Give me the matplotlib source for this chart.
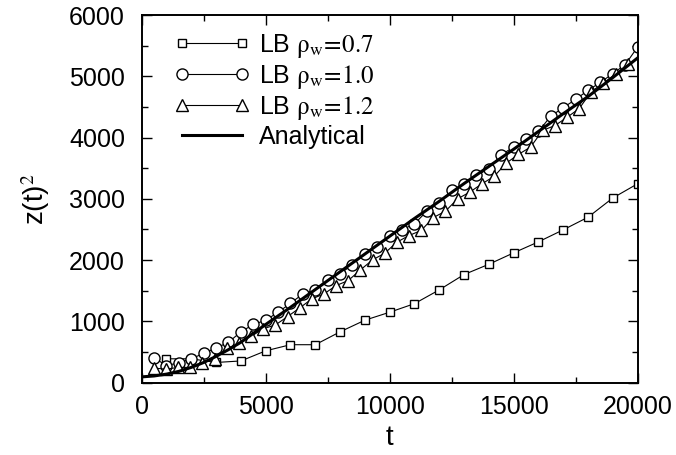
import matplotlib
matplotlib.use("Agg")
import matplotlib.pyplot as plt
from matplotlib.ticker import MultipleLocator

plt.rcParams["font.family"] = ["Liberation Sans", "DejaVu Sans"]
plt.rcParams["mathtext.fontset"] = "stix"

# LB rho_w = 0.7 (squares)
t_sq = [1000, 2000, 3000, 4000, 5000, 6000, 7000, 8000, 9000, 10000,
        11000, 12000, 13000, 14000, 15000, 16000, 17000, 18000, 19000, 20000]
z_sq = [390, 390, 330, 355, 520, 620, 620, 830, 1020, 1150,
        1290, 1515, 1765, 1933, 2119, 2299, 2495, 2701, 3015, 3247]

# LB rho_w = 1.0 (circles)
t_ci = [500, 1000, 1500, 2000, 2500, 3000, 3500, 4000, 4500, 5000,
        5500, 6000, 6500, 7000, 7500, 8000, 8500, 9000, 9500, 10000,
        10500, 11000, 11500, 12000, 12500, 13000, 13500, 14000, 14500, 15000,
        15500, 16000, 16500, 17000, 17500, 18000, 18500, 19000, 19500, 20000]
z_ci = [405, 280, 325, 390, 479, 566, 659, 830, 950, 1020,
        1149, 1296, 1449, 1515, 1678, 1776, 1928, 2103, 2212, 2402,
        2495, 2593, 2799, 2930, 3137, 3246, 3382, 3491, 3720, 3845,
        3971, 4101, 4351, 4488, 4624, 4771, 4902, 5044, 5191, 5479]

# LB rho_w = 1.2 (triangles)
t_tr = [490, 980, 1470, 1960, 2450, 2940, 3430, 3920, 4410, 4900,
        5390, 5880, 6370, 6860, 7350, 7840, 8330, 8820, 9310, 9800,
        10290, 10780, 11270, 11760, 12250, 12740, 13230, 13720, 14210, 14700,
        15190, 15680, 16170, 16660, 17150, 17640, 18130, 18620, 19110, 19600]
z_tr = [240, 220, 250, 250, 320, 390, 560, 640, 755, 880,
        942, 1078, 1220, 1367, 1449, 1585, 1667, 1841, 2004, 2113,
        2293, 2402, 2484, 2695, 2799, 3001, 3110, 3246, 3366, 3583,
        3725, 3845, 4118, 4195, 4330, 4472, 4750, 4891, 5040, 5200]

# Analytical curve
t_an = [0, 500, 1000, 1500, 2000, 2500, 3000, 3500, 4000, 5000, 6000, 7000,
        8000, 9000, 10000, 11000, 12000, 13000, 14000, 15000, 16000,
        17000, 18000, 19000, 20000]
z_an = [95, 110, 140, 185, 250, 330, 430, 540, 660, 950, 1230, 1520,
        1810, 2100, 2390, 2680, 2960, 3250, 3530, 3810, 4100,
        4390, 4670, 4980, 5300]

fig = plt.figure(figsize=(6.76, 4.55), dpi=100)
ax = fig.add_axes([0.2096, 0.1589, 0.7337, 0.8081])

mk = dict(color="black", lw=0.8, mfc="white", mec="black", mew=1.0)
ax.plot(t_sq, z_sq, marker="s", ms=6, label=r"LB $\mathrm{\rho_w\!=\!0.7}$", **mk)
ax.plot(t_ci, z_ci, marker="o", ms=8, label=r"LB $\mathrm{\rho_w\!=\!1.0}$", **mk)
ax.plot(t_tr, z_tr, marker="^", ms=8, label=r"LB $\mathrm{\rho_w\!=\!1.2}$", **mk)
ax.plot(t_an, z_an, color="black", lw=2.2, label="Analytical", zorder=5)

ax.set_xlim(0, 20000)
ax.set_ylim(0, 6000)
ax.xaxis.set_major_locator(MultipleLocator(5000))
ax.xaxis.set_minor_locator(MultipleLocator(2500))
ax.yaxis.set_major_locator(MultipleLocator(1000))
ax.yaxis.set_minor_locator(MultipleLocator(500))
ax.tick_params(which="both", direction="in", top=True, right=True, labelsize=18, width=1.0)
ax.tick_params(which="major", length=7)
ax.tick_params(which="minor", length=4)
ax.tick_params(axis="x", which="major", pad=9)
ax.tick_params(axis="y", which="major", pad=12)
for s in ax.spines.values():
    s.set_linewidth(1.4)

ax.set_xlabel("t", fontsize=20, labelpad=4)
ax.set_ylabel(r"z(t)$^2$", fontsize=20, labelpad=12)

leg = ax.legend(loc="upper left", frameon=False, numpoints=2, handlelength=3.0,
                fontsize=18, labelspacing=0.12, handletextpad=0.4,
                bbox_to_anchor=(0.02, 1.015))

fig.savefig("out.png", dpi=100)
